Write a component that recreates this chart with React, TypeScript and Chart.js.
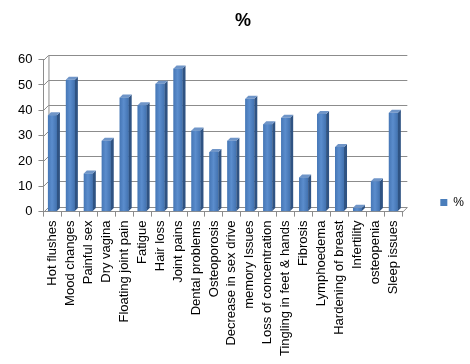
import React, { useEffect, useRef } from "react";
import { Chart, registerables } from "chart.js";

Chart.register(...registerables);

const categories = [
  "Hot flushes",
  "Mood changes",
  "Painful sex",
  "Dry vagina",
  "Floating joint pain",
  "Fatigue",
  "Hair loss",
  "Joint pains",
  "Dental problems",
  "Osteoporosis",
  "Decrease in sex drive",
  "memory Issues",
  "Loss of concentration",
  "Tingling in feet & hands",
  "Fibrosis",
  "Lymphoedema",
  "Hardening of breast",
  "Infertility",
  "osteopenia",
  "Sleep issues",
];

const percentValues = [38, 52, 15, 28, 45, 42, 50.5, 56.5, 32, 23.5, 28, 44.5, 34.5, 37, 13.5, 38.5, 25.5, 1.5, 12, 39];

const yTicks = [0, 10, 20, 30, 40, 50, 60];

const seriesLabel = "%";
const chartTitle = "%";

const DEPTH = 5;
const BAR_DEPTH = 3;
const GRID_COLOR = "#8c8c8c";
const FONT = "'Liberation Sans', Arial, sans-serif";

const walls3d = {
  id: "walls3d",
  beforeDatasetsDraw(chart: any) {
    const { ctx, chartArea, scales } = chart;
    const y = scales.y;
    const left = chartArea.left;
    const right = chartArea.right;
    ctx.save();
    ctx.strokeStyle = GRID_COLOR;
    ctx.lineWidth = 1;
    yTicks.forEach((v) => {
      const py = Math.round(y.getPixelForValue(v)) + 0.5;
      ctx.beginPath();
      ctx.moveTo(left, py);
      ctx.lineTo(left + DEPTH, py - DEPTH);
      ctx.lineTo(right + DEPTH, py - DEPTH);
      ctx.stroke();
    });
    const y0 = Math.round(y.getPixelForValue(0)) + 0.5;
    const yTop = Math.round(y.getPixelForValue(yTicks[yTicks.length - 1])) + 0.5;
    ctx.beginPath();
    ctx.moveTo(left + DEPTH + 0.5, yTop - DEPTH);
    ctx.lineTo(left + DEPTH + 0.5, y0 - DEPTH);
    ctx.moveTo(right, y0);
    ctx.lineTo(right + DEPTH, y0 - DEPTH);
    ctx.stroke();
    ctx.restore();
  },
  afterDatasetsDraw(chart: any) {
    const { ctx } = chart;
    const meta = chart.getDatasetMeta(0);
    ctx.save();
    meta.data.forEach((bar: any) => {
      const { x, y, base, width } = bar.getProps(["x", "y", "base", "width"], true);
      if (![x, y, base, width].every((n) => Number.isFinite(n))) return;
      const l = x - width / 2;
      const r = x + width / 2;
      const d = BAR_DEPTH;
      const g = ctx.createLinearGradient(l, 0, r, 0);
      g.addColorStop(0, "#4677b6");
      g.addColorStop(0.45, "#5b8dcd");
      g.addColorStop(1, "#4272b0");
      ctx.fillStyle = g;
      ctx.fillRect(l, y, width, base - y);
      // side face
      ctx.fillStyle = "#2f5383";
      ctx.beginPath();
      ctx.moveTo(r, y);
      ctx.lineTo(r + d, y - d);
      ctx.lineTo(r + d, base - d);
      ctx.lineTo(r, base);
      ctx.closePath();
      ctx.fill();
      // top face
      ctx.fillStyle = "#6f95c8";
      ctx.beginPath();
      ctx.moveTo(l, y);
      ctx.lineTo(l + d, y - d);
      ctx.lineTo(r + d, y - d);
      ctx.lineTo(r, y);
      ctx.closePath();
      ctx.fill();
    });
    ctx.restore();
  },
};

export default function App() {
  const canvasRef = useRef<HTMLCanvasElement | null>(null);

  useEffect(() => {
    document.body.style.margin = "0";
    const canvas = canvasRef.current;
    if (!canvas) return;
    const chart = new Chart(canvas, {
      type: "bar",
      data: {
        labels: categories,
        datasets: [
          {
            label: seriesLabel,
            data: percentValues,
            backgroundColor: "#4a7ebb",
            borderWidth: 0,
            barPercentage: 0.5,
            categoryPercentage: 1,
          },
        ],
      },
      options: {
        responsive: false,
        animation: false,
        maintainAspectRatio: false,
        layout: { padding: { left: 12, right: -4, top: 0, bottom: 4 } },
        plugins: {
          title: {
            display: true,
            text: chartTitle,
            color: "#000",
            font: { family: FONT, size: 18, weight: "bold" },
            padding: { top: 10, bottom: 28 },
          },
          legend: {
            display: true,
            position: "right",
            align: "center",
            title: {
              display: true,
              text: "",
              font: { family: FONT, size: 1 },
              padding: { top: 22, bottom: 22 },
            },
            labels: {
              color: "#000",
              boxWidth: 7,
              boxHeight: 7,
              padding: 38,
              font: { family: FONT, size: 12 },
            },
          },
          tooltip: { enabled: false },
        },
        scales: {
          x: {
            grid: {
              display: true,
              drawOnChartArea: false,
              drawTicks: true,
              tickLength: 5,
              color: GRID_COLOR,
              offset: true,
            },
            border: { display: true, color: GRID_COLOR },
            ticks: {
              color: "#000",
              minRotation: 90,
              maxRotation: 90,
              autoSkip: false,
              padding: 4,
              font: { family: FONT, size: 13 },
            },
          },
          y: {
            min: 0,
            max: 60,
            grid: {
              display: true,
              drawOnChartArea: false,
              drawTicks: true,
              tickLength: 5,
              color: GRID_COLOR,
            },
            border: { display: true, color: GRID_COLOR },
            ticks: {
              stepSize: 10,
              color: "#000",
              padding: 6,
              font: { family: FONT, size: 13 },
            },
          },
        },
      },
      plugins: [walls3d],
    });
    return () => chart.destroy();
  }, []);

  return (
    <div style={{ width: 470, height: 364, background: "#fff" }}>
      <canvas ref={canvasRef} width={470} height={364} style={{ display: "block" }} />
    </div>
  );
}
